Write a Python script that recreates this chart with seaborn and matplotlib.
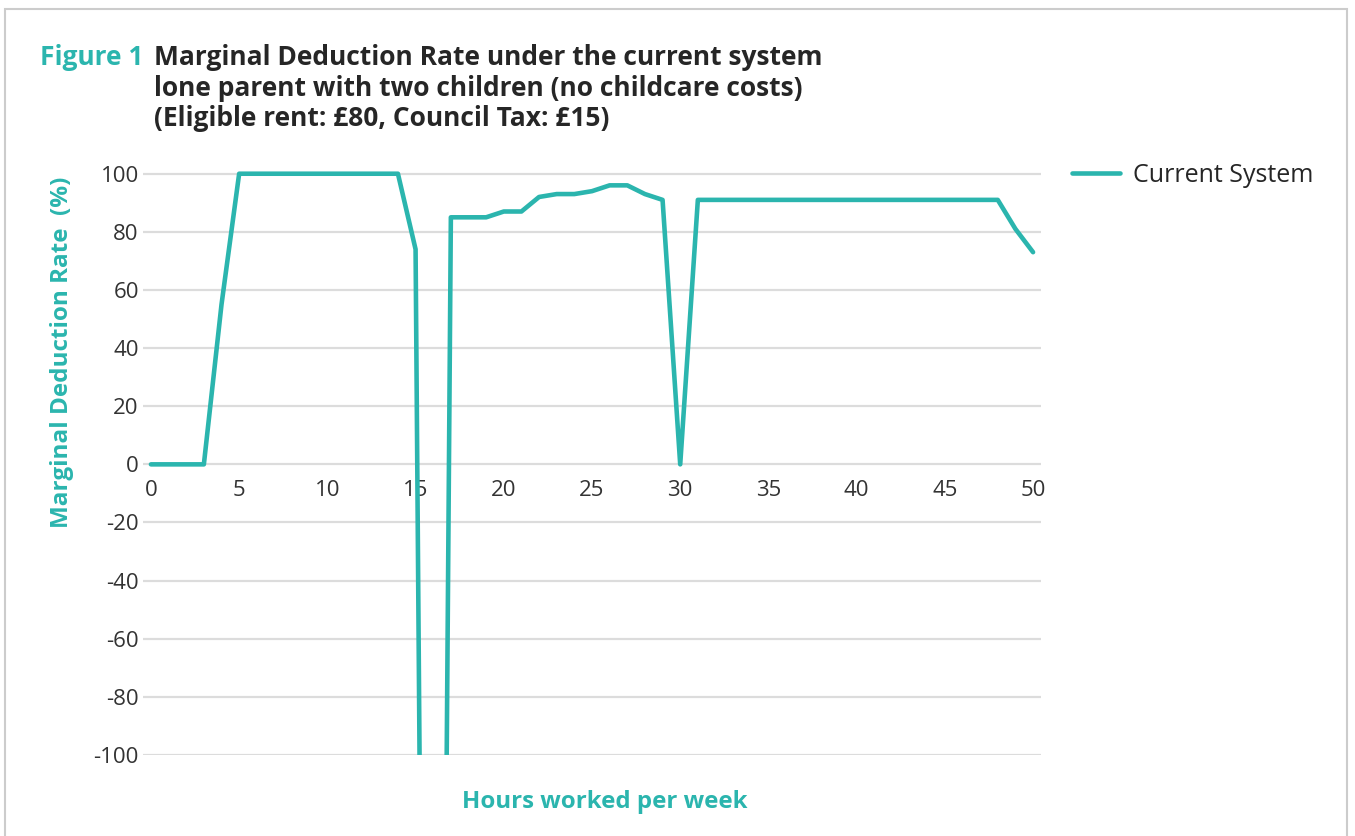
import matplotlib
matplotlib.use("Agg")
import matplotlib.pyplot as plt
import seaborn as sns
import pandas as pd
from matplotlib.patches import Rectangle

# hours worked per week and marginal deduction rate (%)
# hour 16 falls far below the axis (clipped at -100 like the original)
hours = list(range(0, 51))
mdr = [0, 0, 0, 0, 55, 100, 100, 100, 100, 100,
       100, 100, 100, 100, 100, 74, -700, 85, 85, 85,
       87, 87, 92, 93, 93, 94, 96, 96, 93, 91,
       0, 91, 91, 91, 91, 91, 91, 91, 91, 91,
       91, 91, 91, 91, 91, 91, 91, 91, 91, 81,
       73]
series_name = "Current System"
y_ticks = list(range(-100, 101, 20))
x_ticks = list(range(0, 51, 5))

title_lines = ["Marginal Deduction Rate under the current system",
               "lone parent with two children (no childcare costs)",
               "(Eligible rent: £80, Council Tax: £15)"]

teal = "#2bb5ae"
dark = "#262626"

df = pd.DataFrame({"hours": hours, "mdr": mdr})

sns.set_theme(style="white")
plt.rcParams["font.family"] = ["Open Sans", "DejaVu Sans"]
plt.rcParams["axes.unicode_minus"] = False

W, H = 1355, 836
fig = plt.figure(figsize=(W / 100, H / 100), dpi=100)
ax = fig.add_axes([143 / W, 1 - 755 / H, (1041 - 143) / W, (755 - 165) / H])

sns.lineplot(data=df, x="hours", y="mdr", color=teal, linewidth=3.3,
             label=series_name, ax=ax, zorder=3)

ax.set_xlim(-0.45, 50.45)
ax.set_ylim(-100, 103)
ax.set_yticks(y_ticks)
ax.set_xticks(x_ticks)
ax.grid(axis="y", color="#dcdcdc", linewidth=1.6)
ax.grid(axis="x", visible=False)
for s in ax.spines.values():
    s.set_visible(False)
ax.spines["bottom"].set_position(("data", 0))
ax.tick_params(length=0, labelsize=16, labelcolor="#333333")
ax.tick_params(axis="x", pad=11)
ax.tick_params(axis="y", pad=3)
ax.set_xlabel("")
ax.set_ylabel("")

leg = ax.legend(loc="center left", bbox_to_anchor=(1072 / W, 1 - 175 / H),
                bbox_transform=fig.transFigure, frameon=False, fontsize=18,
                handlelength=1.9, handletextpad=0.55, borderpad=0,
                borderaxespad=0)
for t in leg.get_texts():
    t.set_color(dark)

# title block
fig.text(40 / W, 1 - 65 / H, "Figure 1", color=teal, fontsize=19,
         fontweight="bold", va="baseline")
for line, base in zip(title_lines, [65, 96, 126]):
    fig.text(154 / W, 1 - base / H, line, color=dark, fontsize=19,
             fontweight="bold", va="baseline")

fig.text(62 / W, 1 - 352 / H, "Marginal Deduction Rate  (%)", color=teal,
         fontsize=17.5, fontweight="bold", rotation=90, ha="center",
         va="center")
fig.text(605 / W, 1 - 802 / H, "Hours worked per week", color=teal,
         fontsize=17.3, fontweight="bold", ha="center", va="center")

# light frame around the figure
fig.patches.append(Rectangle((5 / W, -0.05), (1347 - 5) / W, 1.05 - 9 / H,
                             transform=fig.transFigure, fill=False,
                             edgecolor="#cccccc", linewidth=1.5))

fig.savefig("out.png", dpi=100)
